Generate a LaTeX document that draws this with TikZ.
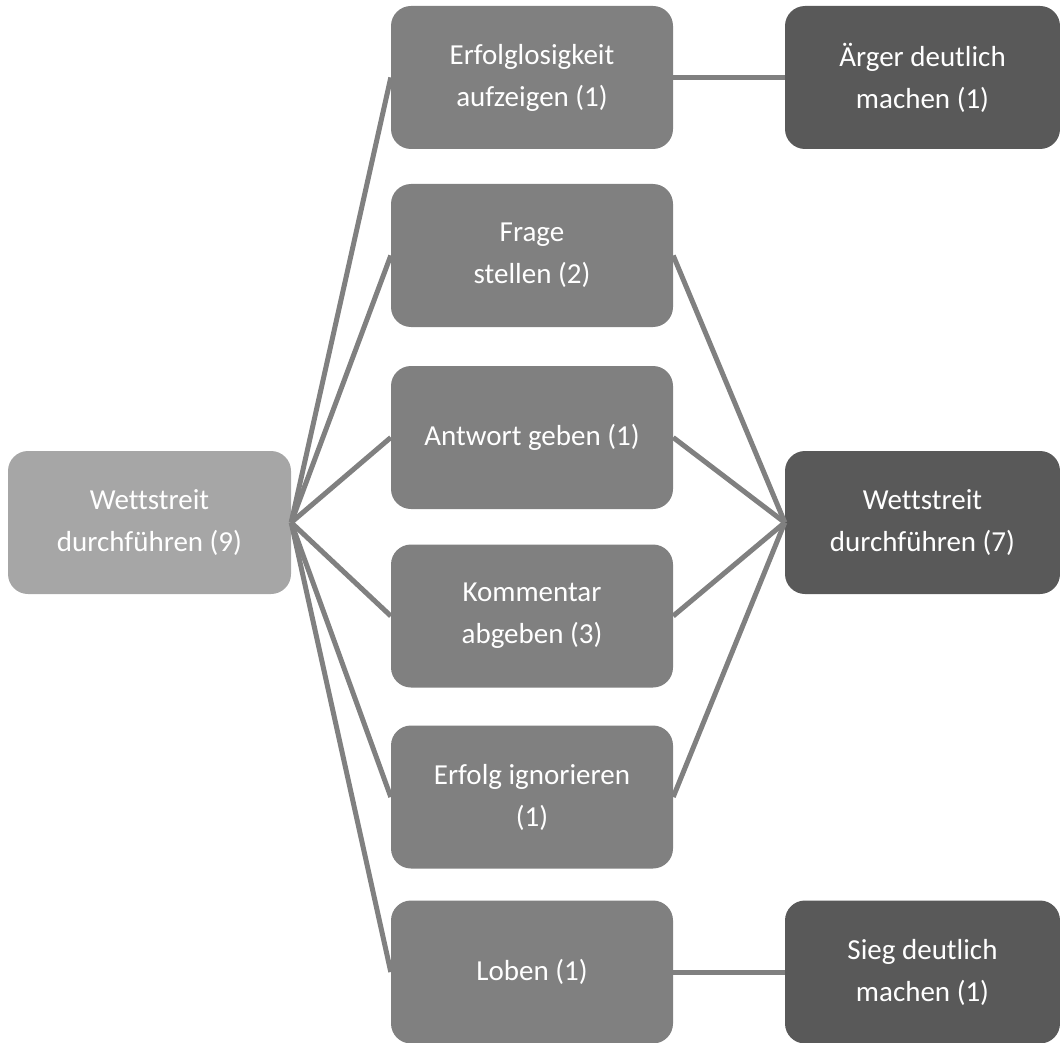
\documentclass[tikz,border=0pt]{standalone}
\usepackage{fontspec}
\setmainfont{Carlito}[Ligatures=CommonOff]
\definecolor{boxlight}{HTML}{A6A6A6}
\definecolor{boxmid}{HTML}{808080}
\definecolor{boxdark}{HTML}{595959}
\definecolor{linkgray}{HTML}{808080}

\begin{document}
\begin{tikzpicture}[x=1pt,y=-1pt,
  box/.style={rounded corners=20pt, minimum width=282pt, minimum height=143pt,
    inner sep=0pt, text=white, align=center, font=\fontsize{29}{42}\selectfont},
  link/.style={draw=linkgray, line width=5pt}]
\useasboundingbox (0,0) rectangle (1060,1043);

\node[box,fill=boxlight,minimum width=283pt] (W9) at (149.5,522.5) {Wettstreit\\durchführen (9)};

\node[box,fill=boxmid] (M1) at (532,77.5) {Erfolglosigkeit\\aufzeigen (1)};
\node[box,fill=boxmid] (M2) at (532,255.5) {Frage\\stellen (2)};
\node[box,fill=boxmid] (M3) at (532,437.5) {Antwort geben (1)};
\node[box,fill=boxmid] (M4) at (532,616) {Kommentar\\abgeben (3)};
\node[box,fill=boxmid] (M5) at (532,797) {Erfolg ignorieren\\(1)};
\node[box,fill=boxmid] (M6) at (532,972) {Loben (1)};

\node[box,fill=boxdark,minimum width=275pt] (R1) at (922.5,77.5) {Ärger deutlich\\machen (1)};
\node[box,fill=boxdark,minimum width=275pt] (W7) at (922.5,522.5) {Wettstreit\\durchführen (7)};
\node[box,fill=boxdark,minimum width=275pt] (R2) at (922.5,972) {Sieg deutlich\\machen (1)};

\path[link] (W9.east) -- (M1.west);
\path[link] (W9.east) -- (M2.west);
\path[link] (W9.east) -- (M3.west);
\path[link] (W9.east) -- (M4.west);
\path[link] (W9.east) -- (M5.west);
\path[link] (W9.east) -- (M6.west);

\path[link] (M1.east) -- (R1.west);
\path[link] (M2.east) -- (W7.west);
\path[link] (M3.east) -- (W7.west);
\path[link] (M4.east) -- (W7.west);
\path[link] (M5.east) -- (W7.west);
\path[link] (M6.east) -- (R2.west);

\end{tikzpicture}
\end{document}
